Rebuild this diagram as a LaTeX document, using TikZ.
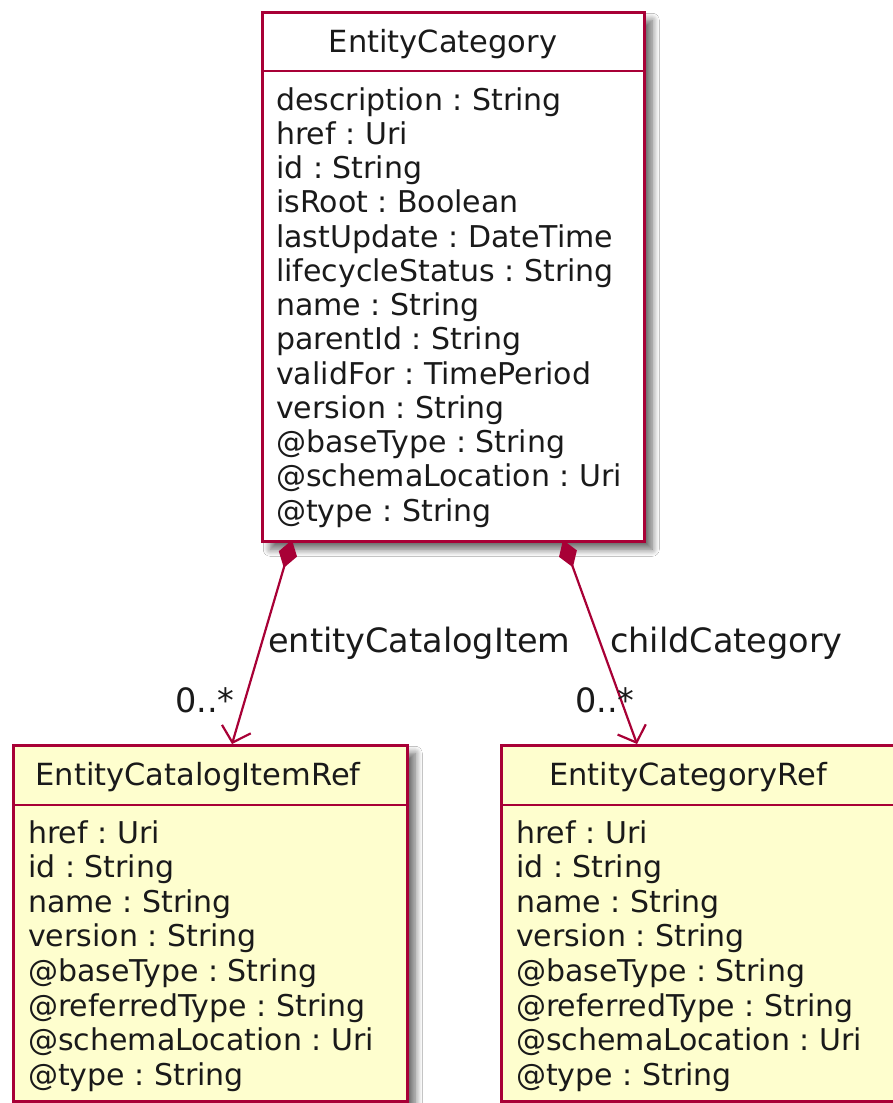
\documentclass[tikz,border=0pt]{standalone}
\usepackage{fontspec}
\setmainfont{DejaVu Sans}
\usetikzlibrary{arrows.meta,shadows.blur}
\definecolor{plborder}{HTML}{A80036}
\definecolor{plfill}{HTML}{FEFECE}
\definecolor{pltext}{HTML}{1A1A1A}
\begin{document}
\frenchspacing
\begin{tikzpicture}[x=1pt,y=-1pt,
  classbox/.style={draw=plborder, line width=2.5pt, rectangle, inner sep=0pt, anchor=north west,
    blur shadow={shadow xshift=8pt, shadow yshift=-8pt, shadow blur radius=7pt, shadow blur steps=8, shadow opacity=60}},
  sepline/.style={draw=plborder, line width=2.5pt},
  ttl/.style={font=\fontsize{30.5}{34}\selectfont, text=pltext, anchor=base, inner sep=0pt},
  attr/.style={font=\fontsize{30}{34}\selectfont, text=pltext, anchor=base west, inner sep=0pt},
  lbl/.style={font=\fontsize{33.5}{38}\selectfont, text=pltext, anchor=base west, inner sep=0pt},
  assoc/.style={draw=plborder, line width=2.2pt,
    {Diamond[length=29pt,width=19pt,fill=plborder]}-{Straight Barb[length=14pt,width=30pt]}}
]
\useasboundingbox (0,0) rectangle (892,1103);
\fill[white] (0,0) rectangle (892,1103);

% top class
\node[classbox, fill=white, minimum width=382pt, minimum height=529pt] (ec) at (261,11) {};
\draw[sepline] ([yshift=-60pt]ec.north west) -- ([yshift=-60pt]ec.north east);
\node[ttl] (ect) at (443,52) {EntityCategory};
\foreach \t [count=\i] in {description : String, href : Uri, id : String, isRoot : Boolean,
  lastUpdate : DateTime, lifecycleStatus : String, name : String, parentId : String,
  validFor : TimePeriod, version : String, @baseType : String, @schemaLocation : Uri, @type : String}
  \node[attr] (eca\i) at (276,{110+34.25*(\i-1)}) {\t};

% bottom left class
\node[classbox, fill=plfill, minimum width=394pt, minimum height=356pt] (ci) at (12,744) {};
\draw[sepline] ([yshift=-61pt]ci.north west) -- ([yshift=-61pt]ci.north east);
\node[ttl] (cit) at (198,785) {EntityCatalogItemRef};
\foreach \t [count=\i] in {href : Uri, id : String, name : String, version : String,
  @baseType : String, @referredType : String, @schemaLocation : Uri, @type : String}
  \node[attr] (cia\i) at (28,{843+34.6*(\i-1)}) {\t};

% bottom right class
\node[classbox, fill=plfill, minimum width=394pt, minimum height=356pt] (cr) at (500,744) {};
\draw[sepline] ([yshift=-61pt]cr.north west) -- ([yshift=-61pt]cr.north east);
\node[ttl] (crt) at (688,785) {EntityCategoryRef};
\foreach \t [count=\i] in {href : Uri, id : String, name : String, version : String,
  @baseType : String, @referredType : String, @schemaLocation : Uri, @type : String}
  \node[attr] (cra\i) at (516,{843+34.6*(\i-1)}) {\t};

% connectors
\coordinate (ecL) at (292,540);
\coordinate (ecR) at (563,540);
\coordinate (ciT) at (232,744);
\coordinate (crT) at (637,744);
\draw[assoc] (ecL) -- (ciT);
\draw[assoc] (ecR) -- (crT);

\node[lbl] (l1) at (268,652) {entityCatalogItem};
\node[lbl] (l2) at (610,652) {childCategory};
\node[lbl] (m1) at (175,712) {0..*};
\node[lbl] (m2) at (575,712) {0..*};
\end{tikzpicture}
\end{document}
